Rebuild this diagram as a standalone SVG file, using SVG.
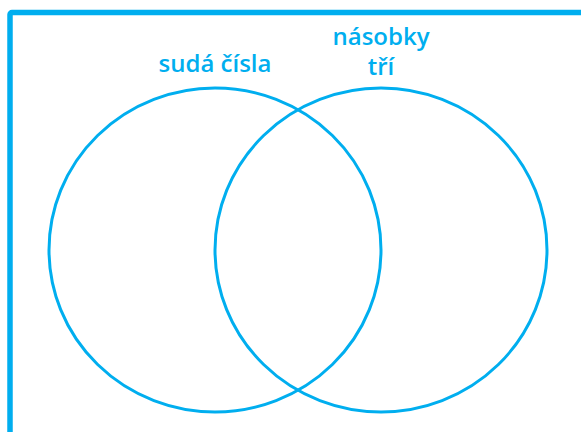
<svg xmlns="http://www.w3.org/2000/svg" width="581" height="432" viewBox="0 0 581 432">
<style>
.frame{fill:none;stroke:#00AEEF;stroke-width:5.5;}
.set{fill:none;stroke:#00AEEF;stroke-width:3;}
.lbl{font-family:"Open Sans","Noto Sans",sans-serif;font-weight:600;font-size:24px;fill:#00AEEF;text-anchor:middle;}
</style>
<rect width="581" height="432" fill="#ffffff"/>
<rect class="frame" x="10" y="12.5" width="640" height="500" rx="2"/>
<g id="even">
<ellipse class="set" cx="215" cy="250" rx="166" ry="162"/>
<text class="lbl" x="215" y="72">sudá čísla</text>
</g>
<g id="multiples3">
<ellipse class="set" cx="381" cy="250" rx="166" ry="162"/>
<text class="lbl" x="381" y="45">násobky</text>
<text class="lbl" x="381" y="75">tří</text>
</g>
<g id="connectors"></g>
</svg>
